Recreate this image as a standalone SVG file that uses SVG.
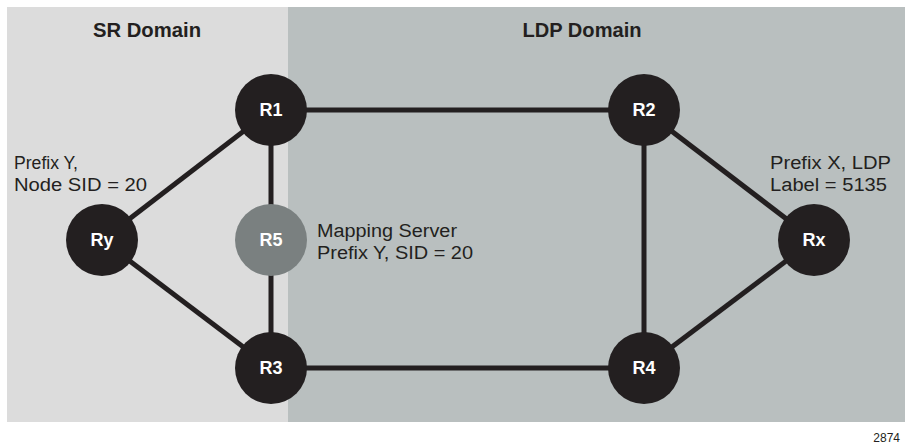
<svg xmlns="http://www.w3.org/2000/svg" width="905" height="447" viewBox="0 0 905 447">
<style>
.lbl{font-family:"Liberation Sans",Arial,sans-serif;font-size:18px;fill:#231f20}
.dom{font-family:"Liberation Sans",Arial,sans-serif;font-size:20px;font-weight:bold;fill:#231f20;text-anchor:middle}
.nt{font-family:"Liberation Sans",Arial,sans-serif;font-size:18px;font-weight:bold;fill:#ffffff;text-anchor:middle}
.n{fill:#231f20}
.e{stroke:#231f20;stroke-width:5;fill:none}
</style>
<rect width="905" height="447" fill="#ffffff"/>
<g id="sr-domain"><rect x="7" y="7" width="281" height="415" fill="#dcdcdc"/><text class="dom" x="147" y="37" textLength="108" lengthAdjust="spacingAndGlyphs">SR Domain</text></g>
<g id="ldp-domain"><rect x="288" y="7" width="617" height="415" fill="#b9bfbf"/><text class="dom" x="582" y="37" textLength="119" lengthAdjust="spacingAndGlyphs">LDP Domain</text></g>
<g id="connectors">
<line class="e" x1="271" y1="110" x2="644" y2="110"/>
<line class="e" x1="271" y1="110" x2="102" y2="240"/>
<line class="e" x1="271" y1="110" x2="271" y2="368"/>
<line class="e" x1="102" y1="240" x2="271" y2="368"/>
<line class="e" x1="271" y1="368" x2="644" y2="368"/>
<line class="e" x1="644" y1="110" x2="644" y2="368"/>
<line class="e" x1="644" y1="110" x2="814" y2="240"/>
<line class="e" x1="814" y1="240" x2="644" y2="368"/>
</g>
<g id="R1"><circle class="n" cx="271" cy="110" r="36"/><text class="nt" x="271" y="116">R1</text></g>
<g id="R2"><circle class="n" cx="644" cy="110" r="36"/><text class="nt" x="644" y="116">R2</text></g>
<g id="Ry"><circle class="n" cx="102" cy="240" r="36"/><text class="nt" x="102" y="246">Ry</text></g>
<g id="R5"><circle cx="271" cy="240" r="36" fill="#7a8080"/><text class="nt" x="271" y="246">R5</text></g>
<g id="Rx"><circle class="n" cx="814" cy="240" r="36"/><text class="nt" x="814" y="246">Rx</text></g>
<g id="R3"><circle class="n" cx="271" cy="368" r="36"/><text class="nt" x="271" y="374">R3</text></g>
<g id="R4"><circle class="n" cx="644" cy="368" r="36"/><text class="nt" x="644" y="374">R4</text></g>
<g id="labels">
<text class="lbl" x="14" y="169" textLength="64" lengthAdjust="spacingAndGlyphs">Prefix Y,</text>
<text class="lbl" x="14" y="191" textLength="133" lengthAdjust="spacingAndGlyphs">Node SID = 20</text>
<text class="lbl" x="317" y="237" textLength="140" lengthAdjust="spacingAndGlyphs">Mapping Server</text>
<text class="lbl" x="317" y="259" textLength="156" lengthAdjust="spacingAndGlyphs">Prefix Y, SID = 20</text>
<text class="lbl" x="770" y="169" textLength="121" lengthAdjust="spacingAndGlyphs">Prefix X, LDP</text>
<text class="lbl" x="770" y="191" textLength="117" lengthAdjust="spacingAndGlyphs">Label = 5135</text>
<text x="900" y="442" text-anchor="end" style="font-family:'Liberation Sans',Arial,sans-serif;font-size:12px;fill:#231f20">2874</text>
</g>
</svg>
